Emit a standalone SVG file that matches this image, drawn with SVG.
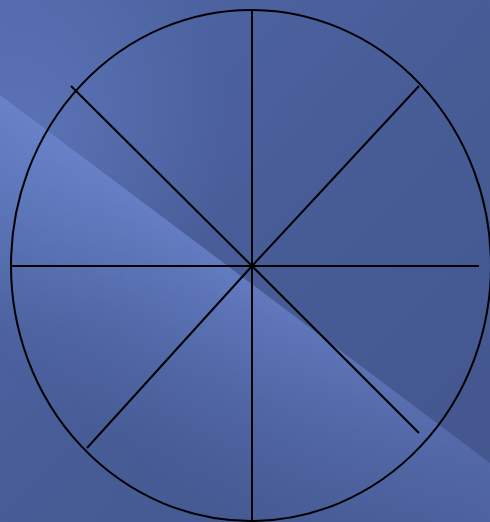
<svg xmlns="http://www.w3.org/2000/svg" width="490" height="522" viewBox="0 0 490 522">
<defs>
<linearGradient id="bg" x1="0" y1="0" x2="1" y2="1">
<stop offset="0" stop-color="#5068a8"/>
<stop offset="0.55" stop-color="#475b95"/>
<stop offset="1" stop-color="#43568e"/>
</linearGradient>
<linearGradient id="band" gradientUnits="userSpaceOnUse" x1="245" y1="279" x2="115" y2="453">
<stop offset="0" stop-color="#6b84cc" stop-opacity="0.85"/>
<stop offset="0.3" stop-color="#6580c6" stop-opacity="0.6"/>
<stop offset="1" stop-color="#5a72b4" stop-opacity="0"/>
</linearGradient>
<linearGradient id="fade" gradientUnits="userSpaceOnUse" x1="0" y1="95" x2="490" y2="463">
<stop offset="0" stop-color="#fff" stop-opacity="1"/>
<stop offset="0.5" stop-color="#fff" stop-opacity="0.9"/>
<stop offset="1" stop-color="#fff" stop-opacity="0.45"/>
</linearGradient>
<mask id="m" maskUnits="userSpaceOnUse" x="0" y="0" width="490" height="522">
<rect width="490" height="522" fill="url(#fade)"/>
</mask>
<radialGradient id="glow" gradientUnits="userSpaceOnUse" cx="30" cy="130" r="200">
<stop offset="0" stop-color="#6a84cc" stop-opacity="0.45"/>
<stop offset="1" stop-color="#6a84cc" stop-opacity="0"/>
</radialGradient>
<style>
.ln{stroke:#000;stroke-width:2;fill:none;stroke-linecap:butt}
</style>
</defs>
<rect width="490" height="522" fill="url(#bg)"/>
<rect width="490" height="522" fill="url(#glow)"/>
<polygon points="0,95 490,463 490,522 0,522" fill="url(#band)" mask="url(#m)"/>
<g id="wheel">
<ellipse class="ln" cx="251" cy="265.5" rx="240" ry="255.5"/>
</g>
<g id="connectors">
<line class="ln" x1="252" y1="10" x2="252" y2="522"/>
<line class="ln" x1="11" y1="266" x2="479" y2="266"/>
<line class="ln" x1="71" y1="86" x2="252" y2="266"/>
<line class="ln" x1="419" y1="86" x2="252" y2="266"/>
<line class="ln" x1="87" y1="448" x2="252" y2="266"/>
<line class="ln" x1="419" y1="433" x2="252" y2="266"/>
</g>
</svg>
